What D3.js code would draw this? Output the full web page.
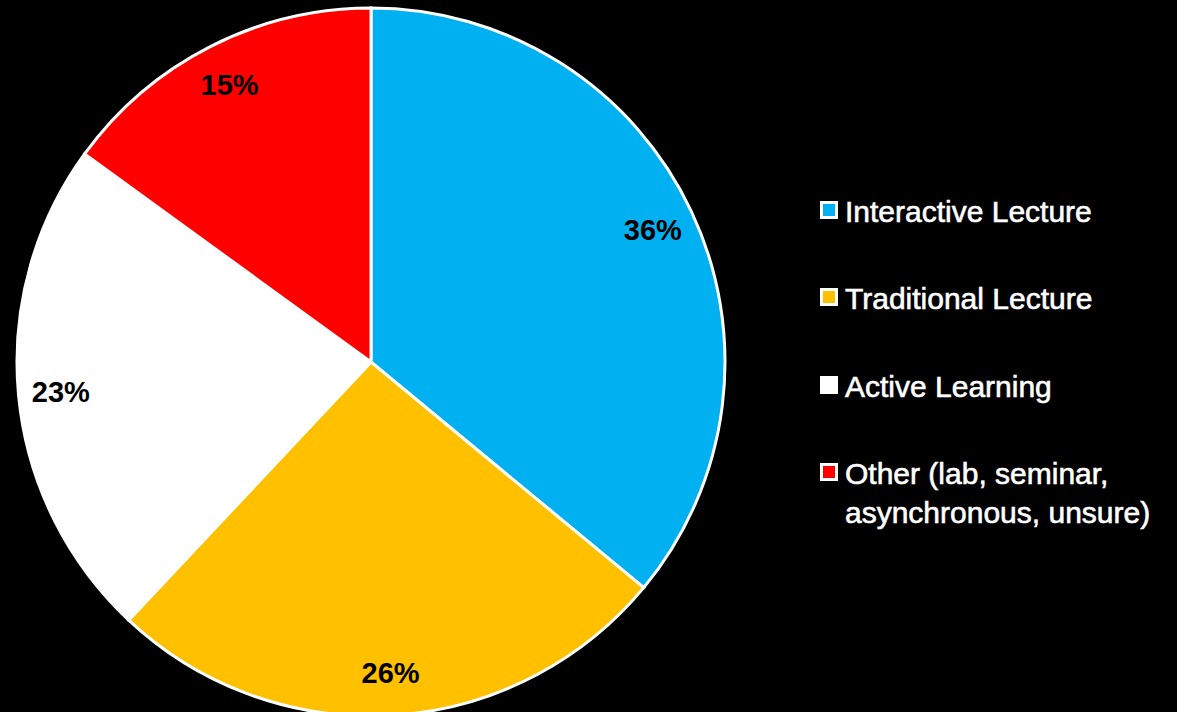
<!DOCTYPE html>
<meta charset="utf-8">
<script src="https://d3js.org/d3.v7.min.js"></script>
<head>
<style>
  body { margin: 0; background: #000; }
</style>
</head>
<body>
<div id="my_dataviz"></div>
<script>
        // data
        var categories = ["Interactive Lecture", "Traditional Lecture", "Active Learning", "Other (lab, seminar, asynchronous, unsure)"];
        var values = [36, 26, 23, 15];
        var labels = ["36%", "26%", "23%", "15%"];
        var legendLines = [["Interactive Lecture"], ["Traditional Lecture"], ["Active Learning"], ["Other (lab, seminar,", "asynchronous, unsure)"]];
        var colors = ["#00b0f0", "#ffc000", "#ffffff", "#ff0000"];

        var width = 1177, height = 712;
        var cx = 371, cy = 362, radius = 354;

        var svg = d3.select("#my_dataviz")
          .append("svg")
            .attr("width", width)
            .attr("height", height)
            .style("background", "#000");

        var data = categories.map(function (c, i) { return {name: c, value: values[i], label: labels[i], color: colors[i]}; });

        var pie = d3.pie().sort(null).value(function (d) { return d.value; });
        var arc = d3.arc().innerRadius(0).outerRadius(radius);
        var labelArc = d3.arc().innerRadius(radius * 0.88).outerRadius(radius * 0.88);

        var g = svg.append("g")
            .attr("transform", "translate(" + cx + "," + cy + ")");

        g.selectAll("path")
          .data(pie(data))
          .enter()
          .append("path")
            .attr("d", arc)
            .attr("fill", function (d) { return d.data.color; })
            .attr("stroke", "#fff")
            .attr("stroke-width", 3);

        g.selectAll("text")
          .data(pie(data))
          .enter()
          .append("text")
            .attr("transform", function (d) { return "translate(" + labelArc.centroid(d) + ")"; })
            .attr("text-anchor", "middle")
            .attr("dy", "0.36em")
            .style("font-family", "Liberation Sans, Arial, sans-serif")
            .style("font-weight", "bold")
            .style("font-size", "29px")
            .style("fill", "#000")
            .text(function (d) { return d.data.label; });

        // legend
        var rowY = [211, 298, 386, 473];
        var legend = svg.append("g");
        var items = legend.selectAll("g")
          .data(data)
          .enter()
          .append("g")
            .attr("transform", function (d, i) { return "translate(820," + rowY[i] + ")"; });

        items.append("rect")
            .attr("x", 1.5)
            .attr("y", -8.5)
            .attr("width", 15)
            .attr("height", 15)
            .attr("fill", function (d) { return d.color; })
            .attr("stroke", "#fff")
            .attr("stroke-width", 3);

        items.append("text")
            .attr("x", 25)
            .style("font-family", "Liberation Sans, Arial, sans-serif")
            .style("font-size", "30px")
            .style("fill", "#fff")
            .style("stroke", "#fff")
            .style("stroke-width", 0.6)
            .selectAll("tspan")
            .data(function (d, i) { return legendLines[i]; })
            .enter()
            .append("tspan")
              .attr("x", 25)
              .attr("dy", function (d, j) { return j === 0 ? "0.36em" : "1.3em"; })
              .text(function (d) { return d; });
</script>
</body>
